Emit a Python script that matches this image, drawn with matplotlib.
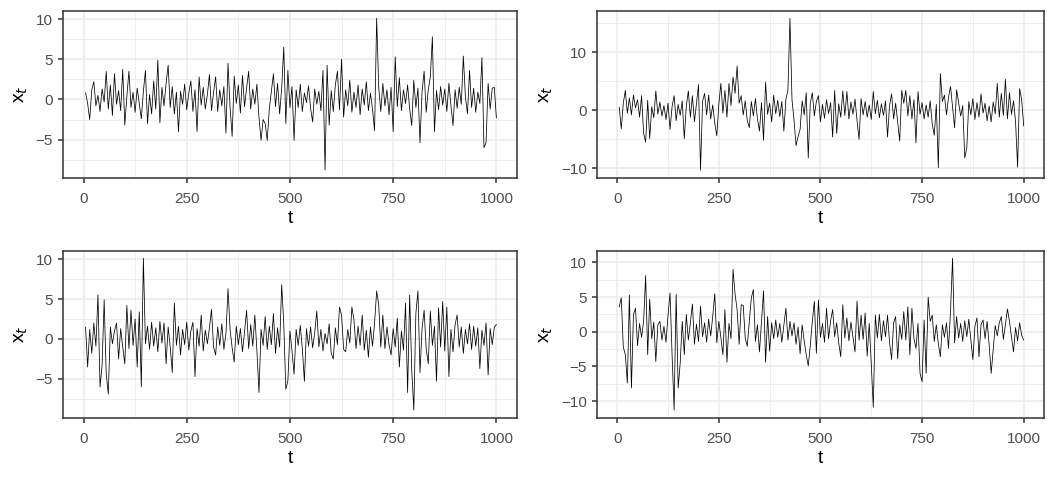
import numpy as np
import matplotlib
matplotlib.use("Agg")
import matplotlib.pyplot as plt
from matplotlib.ticker import MultipleLocator

plt.rcParams['font.family'] = ['Liberation Sans', 'DejaVu Sans']

# time index (every 5th step)
t = np.arange(5, 1001, 5)

# top-left series
x_tl = [0.8, -0.5, -2.5, 1.2, 2.2, -0.8, 0.5, -1.5, 1.3, -0.3, 3.5, -1.2, 1.8, -2.0, 3.2, -0.6, 1.1, -1.4, 3.75, -3.2,
        0.4, 3.5, -1.0, 0.9, -1.6, 1.4, -0.5, -2.4, 1.0, 3.6, -3.0, 0.6, -1.8, 2.3, -1.2, 4.9, -2.9, 1.5, -0.8, 2.0,
        4.25, -1.0, 1.6, -1.8, 0.9, -4.0, 1.0, -0.6, 1.9, -1.3, 0.8, 2.3, -1.5, 1.2, -4.0, 2.8, -0.7, 1.5, -1.2, 0.6,
        3.1, -1.4, 0.9, 2.8, -1.5, 1.2, -0.8, 1.6, -4.2, 4.5, -1.0, -4.6, 2.9, -0.5, 1.8, -1.7, 3.0, -0.9, 1.4, 3.5,
        -1.2, 1.3, -0.6, 1.9, -2.2, -5.1, -2.5, -3.0, -5.1, -1.2, 1.0, 3.2, -0.9, 2.0, -1.8, 1.4, 6.5, -3.0, 3.6, -1.0,
        1.6, -5.1, 1.2, -1.0, 1.9, -1.5, 0.8, -0.4, 1.7, -1.1, -2.8, 1.3, -0.6, 1.0, -1.4, 3.6, -8.8, 4.25, -3.2, 1.1,
        -1.5, 1.8, 3.5, -1.3, 5.0, -2.2, 1.2, -0.8, 2.4, -1.6, 0.9, -1.0, 1.8, -1.9, 1.3, -0.7, 2.2, -1.4, 0.8, -1.2,
        -3.9, 10.1, 1.5, -1.5, 2.0, -0.8, 1.2, -1.9, 1.5, -4.0, 5.3, -0.9, 2.7, -1.4, 1.2, -0.5, 1.8, -1.2, -3.25, 2.4,
        -1.0, 1.4, -5.4, 1.0, 3.5, -1.6, 1.2, 2.8, 7.8, -4.0, 1.1, -1.3, 1.6, -0.7, 1.3, -1.5, 2.0, -0.8, -3.25, 1.2,
        -1.1, 1.5, -0.6, 5.4, 0.3, -1.8, 3.6, -1.0, 1.4, -1.6, 0.9, -0.5, 5.2, -6.0, -5.4, 2.0, -1.2, 1.4, 1.5, -2.3]

# top-right series
x_tr = [0.5, -3.2, 1.2, 3.4, -0.5, 2.1, -0.8, 2.6, 0.4, 1.8, -1.2, 2.5, -4.0, -5.5, 1.7, -4.9, 0.6, -1.3, 3.3, -0.7,
        1.4, -1.0, 0.8, -1.6, 1.2, -3.3, 0.6, 2.5, -1.8, 1.0, -0.9, 1.6, -4.9, 0.7, 3.3, -1.2, 2.5, -2.0, 1.1, 4.4,
        -10.3, 1.5, 2.9, -0.8, 2.6, -1.5, 0.9, -2.2, -4.4, 1.0, 4.6, -0.5, 3.4, -1.2, 4.6, 0.8, 5.7, 2.9, 7.6, 1.2,
        2.5, -0.8, 1.6, -1.8, -3.0, 1.5, -1.0, 2.0, -1.5, -3.6, 1.3, -5.2, 4.8, -0.7, 1.2, -2.0, 2.6, -0.6, 1.7, -1.1,
        1.5, -3.6, 1.9, 3.4, 15.8, 1.8, -1.7, -6.1, -4.5, -3.3, 1.6, -0.8, 3.0, -8.2, 1.2, 3.0, -1.0, 1.5, 2.5, -2.0,
        1.0, -1.4, 1.8, -0.6, 1.3, -4.6, 3.4, -4.0, 1.1, -1.2, 3.3, -0.9, 3.2, -1.5, 1.4, -0.7, 1.9, -1.8, -5.0, 2.0,
        -0.8, 1.5, -1.2, 0.9, -1.6, 3.2, -0.6, 1.7, -1.3, 1.1, -0.9, 1.6, -4.6, 0.8, 2.8, -1.5, 1.2, -2.0, -5.3, 3.4,
        1.2, 3.4, -1.0, 2.5, -1.5, 1.8, -5.6, 3.2, -0.7, 1.3, -1.5, 0.9, -1.2, 1.6, -2.4, -4.3, 1.0, -9.9, 6.3, 1.5,
        2.6, -0.8, 2.2, 4.1, 0.5, -3.0, 3.5, 1.2, -1.0, 0.8, -8.2, -6.5, 1.5, -0.8, 2.0, -1.6, 1.3, -1.2, 2.8, -0.5,
        1.2, -1.8, 0.7, -2.0, 1.4, -0.6, 4.6, -1.2, 2.9, -0.9, 5.3, -1.5, 3.0, -0.7, 1.6, -2.0, -9.8, 3.7, 1.8, -2.7]

# bottom-left series
x_bl = [1.5, -3.5, 1.2, -1.8, 2.0, -0.9, 5.5, -6.0, -3.3, 4.9, -4.4, -6.9, 1.5, -0.6, 1.0, 2.0, -2.5, 1.3, -1.0, -3.1,
        4.2, -1.2, 3.6, -0.8, 2.5, -3.5, 3.4, -6.0, 10.1, -0.6, 1.6, -1.3, 2.1, -0.9, 1.4, -1.6, 2.2, -0.5, 2.0, -3.1,
        1.5, -1.0, -4.2, 4.5, -0.8, 1.6, -2.0, 1.2, -0.7, 2.1, -1.4, 1.0, 2.1, -4.7, 1.3, -0.9, 3.0, -1.5, 1.1, -0.6,
        1.4, 3.7, -1.0, -2.0, 1.5, -0.8, 1.9, -1.3, 0.7, 6.3, 1.2, -1.1, -2.9, 1.6, -0.7, 1.3, -1.6, 0.9, 3.6, -1.2,
        1.8, -0.9, 3.0, -1.5, -6.7, 1.2, -0.8, 2.8, -1.3, 1.6, -0.7, 3.2, -1.8, 1.4, -1.0, 6.8, 2.0, -6.3, -5.2, 1.0,
        -1.5, -4.4, 1.2, -0.8, 1.7, -1.2, -5.3, 1.3, -0.9, 1.5, -1.1, 0.8, 3.5, -1.0, 1.2, -1.5, 0.7, -0.6, 1.9, -1.8,
        -2.5, 1.4, -0.7, 4.0, 3.0, -1.3, -1.6, 1.2, -0.5, 4.0, 2.4, -1.2, 1.6, -0.8, 3.0, -1.4, 1.1, -2.3, 1.5, -0.9,
        2.0, 6.0, 4.3, -1.0, 3.0, -1.2, 1.5, -0.7, -2.0, 1.3, -1.0, 2.6, -3.5, 1.0, -1.4, 4.5, -6.7, 5.5, -3.9, -8.9,
        3.2, 6.0, -4.2, 1.3, 3.6, -1.2, -3.1, 3.5, -0.8, 1.6, -5.3, 3.9, -1.0, 4.7, -1.5, 4.0, -4.7, 1.2, -1.6, 1.8,
        3.0, -1.0, 1.5, -1.8, 1.2, -0.6, 1.9, -1.3, 1.6, -0.9, 1.4, -3.7, 1.1, -0.8, 2.0, -4.5, 1.3, -0.7, 1.5, 1.8]

# bottom-right series
x_br = [3.6, 4.9, -2.2, -3.3, -7.4, 5.3, -8.1, 2.5, 3.4, -2.0, 1.2, -0.8, 1.5, 8.1, -3.3, 4.7, -1.0, 1.4, -4.3, 1.0,
        1.5, -1.2, 0.8, -1.5, 2.4, 5.6, -3.3, -11.3, 5.4, -8.1, -4.5, 1.5, -3.3, 2.5, -1.2, 1.3, 4.0, -1.8, 1.1, -1.4,
        3.7, -0.7, 1.3, -1.5, 1.8, -0.6, 2.2, 5.5, -1.6, 1.5, -0.8, -3.3, 3.2, -4.4, 1.2, -1.0, 9.0, 5.4, 3.2, -1.8,
        3.9, 3.8, -0.9, -2.1, 1.5, 4.9, 6.1, -1.4, 1.0, -2.9, 1.6, 5.9, -4.4, 2.2, -2.8, 1.3, -1.0, 1.7, -0.8, 1.2,
        -1.5, 0.9, 3.4, -1.2, 1.5, -0.6, 1.3, -1.8, 0.7, -3.2, 1.0, -1.3, -3.3, -4.9, -2.0, 1.5, 4.4, -3.1, 4.6, -0.8,
        1.2, -1.5, 3.4, -1.0, 1.6, 3.2, -0.7, 1.3, -1.6, -3.6, 3.9, -0.9, 2.0, -1.3, 1.4, -0.8, -2.9, 4.4, -1.2, 2.4,
        -1.1, 2.7, -3.5, 1.2, -4.6, -10.9, 2.4, -0.9, 2.5, -1.3, 1.6, -0.7, 2.4, -1.5, -4.0, 1.3, 2.2, -3.9, 1.0, -1.1,
        2.9, -1.2, 3.6, -3.3, 3.4, -1.0, -2.4, 1.2, -6.0, -7.2, 1.7, -6.0, 5.0, 1.5, 2.4, -1.4, 1.0, -1.7, -3.6, 1.0,
        -0.8, 1.3, -2.4, 3.0, 10.6, -1.6, 2.2, -0.9, 1.2, -1.4, 1.6, -0.7, 1.8, -1.2, -4.0, 0.8, 2.0, -3.6, 1.0, 1.7,
        -1.0, 1.5, -1.9, -6.0, -2.5, 0.9, -0.6, 1.3, 2.2, -1.1, 1.0, 3.3, 1.5, -0.8, -2.9, 0.6, -1.3, 1.3, -0.5, -1.2]

series = [x_tl, x_tr, x_bl, x_br]
y_major = [5, 10, 5, 5]

# axes boxes in pixels: left, top, right, bottom
W, H = 1056, 480
boxes = [(63.3, 10.7, 517, 177.7), (597.3, 10.7, 1044, 177.7),
         (63.3, 250.7, 517, 417.7), (597.3, 250.7, 1044, 417.7)]

fig = plt.figure(figsize=(W / 100, H / 100), dpi=100, facecolor='white')

for vals, step, (x0, y0, x1, y1) in zip(series, y_major, boxes):
    ax = fig.add_axes([x0 / W, 1 - y1 / H, (x1 - x0) / W, (y1 - y0) / H])
    ax.plot(t, vals, color='black', lw=0.55)
    ax.set_xlim(-48.95, 1049.95)
    ax.margins(y=0.05)
    ax.xaxis.set_major_locator(MultipleLocator(250))
    ax.xaxis.set_minor_locator(MultipleLocator(125))
    ax.yaxis.set_major_locator(MultipleLocator(step))
    ax.yaxis.set_minor_locator(MultipleLocator(step / 2))
    ax.grid(which='major', color='#EBEBEB', lw=1.1)
    ax.grid(which='minor', color='#EBEBEB', lw=0.55)
    ax.set_axisbelow(True)
    for s in ax.spines.values():
        s.set_color('#333333')
        s.set_linewidth(1.1)
    ax.tick_params(which='major', length=3.5, width=1.1, color='#333333',
                   labelcolor='#4D4D4D', labelsize=11, pad=4)
    ax.tick_params(axis='x', which='major', pad=7)
    ax.tick_params(which='minor', length=0)
    ax.set_xlabel('t', fontsize=14, labelpad=3)
    ax.set_ylabel('x$_{t}$', fontsize=14, labelpad=4)

fig.savefig('out.png', dpi=100, facecolor='white')
